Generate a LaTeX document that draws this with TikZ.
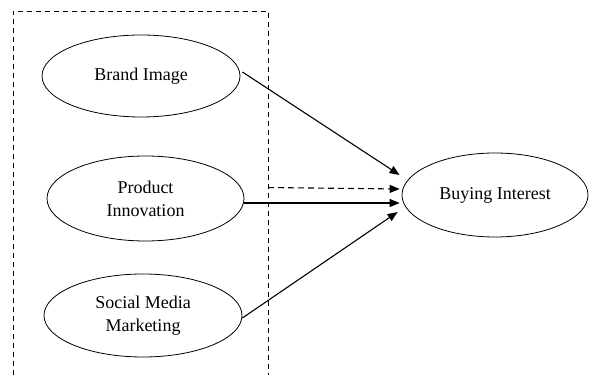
\documentclass[tikz,border=0pt]{standalone}
\usepackage{fontspec}
\setmainfont{Liberation Serif}
\usetikzlibrary{arrows.meta,shapes.geometric,calc}
\begin{document}
\begin{tikzpicture}[x=1pt,y=1pt,
  construct/.style={ellipse,draw,line width=0.8pt,inner sep=0pt,align=center,
    font=\fontsize{18}{23}\selectfont},
  link/.style={line width=1.1pt,-{Triangle[length=10pt,width=8pt]}},
  frame/.style={line width=0.9pt,dash pattern=on 5pt off 4pt}]
  \useasboundingbox (0,0) rectangle (589,377);

  % independent constructs
  \node[construct,minimum width=198pt,minimum height=82pt] (brand) at (141,301) {Brand Image};
  \node[construct,minimum width=197pt,minimum height=85pt] (innov) at (145.5,178.5) {Product\\Innovation};
  \node[construct,minimum width=198pt,minimum height=83pt] (social) at (143,61.5) {Social Media\\Marketing};

  % dependent construct
  \node[construct,minimum width=186pt,minimum height=84pt] (buy) at (495,182) {Buying Interest};

  % dashed frame around the independent constructs (open at the bottom)
  \coordinate (fbl) at (13,2);
  \coordinate (ftl) at (13,366);
  \coordinate (ftr) at (268,366);
  \coordinate (fbr) at (268,2);
  \draw[frame] (fbl) -- (ftl) -- (ftr) -- (fbr);

  % arrow targets left of the dependent construct
  \coordinate (t1) at ($(buy.west)+(-2,20)$);
  \coordinate (t2) at ($(buy.west)+(-2,6)$);
  \coordinate (t3) at ($(buy.west)+(-2,-8)$);
  \coordinate (t4) at ($(buy.west)+(-4,-17)$);
  \coordinate (fout) at ($(ftr)!0.485!(fbr)$);

  \draw[link] ($(brand.east)+(2,4)$) -- (t1);
  \draw[link,dash pattern=on 6pt off 4pt] (fout) -- (t2);
  \draw[link] ($(innov.east)+(0,-4.5)$) -- (t3);
  \draw[link] ($(social.east)+(0,-2.5)$) -- (t4);
\end{tikzpicture}
\end{document}
